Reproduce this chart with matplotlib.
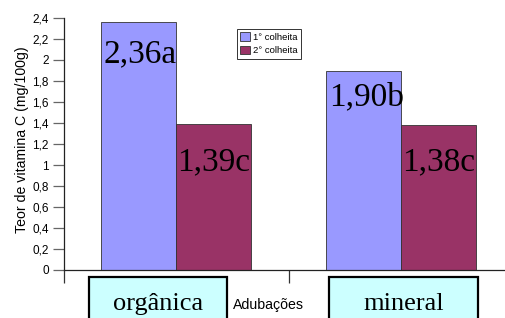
import numpy as np
import matplotlib
matplotlib.use("Agg")
import matplotlib.pyplot as plt
from matplotlib.patches import Rectangle

# ============================================================
# Data
# ============================================================
categories = ["orgânica", "mineral"]
series_names = ["1° colheita", "2° colheita"]
colheita1 = [2.36, 1.90]
colheita2 = [1.39, 1.38]
labels1 = ["2,36a", "1,90b"]
labels2 = ["1,39c", "1,38c"]
yticks = [0, 0.2, 0.4, 0.6, 0.8, 1.0, 1.2, 1.4, 1.6, 1.8, 2.0, 2.2, 2.4]
ytick_labels = ["0", "0,2", "0,4", "0,6", "0,8", "1", "1,2", "1,4", "1,6", "1,8", "2", "2,2", "2,4"]

# where the value labels sit (data units of the baseline)
label_y1 = [1.98, 1.57]
label_y2 = [0.95, 0.95]

# ============================================================
# Style
# ============================================================
W, H = 506, 318
SANS = "Liberation Sans"
SERIF = "Liberation Serif"
c1 = "#9999FF"
c2 = "#993366"
box_fill = "#CCFFFF"


def fx(px):
    return px / W


def fy(py):
    return 1 - py / H


fig = plt.figure(figsize=(W / 100, H / 100), dpi=100)
fig.patch.set_facecolor("white")
ax = fig.add_axes([fx(64), fy(270), 450 / W, 252 / H])

x = np.arange(len(categories)) + 0.5
bw = 1 / 3
ax.bar(x - bw / 2, colheita1, bw, color=c1, edgecolor="#333333", linewidth=0.6,
       label=series_names[0])
ax.bar(x + bw / 2, colheita2, bw, color=c2, edgecolor="#333333", linewidth=0.6,
       label=series_names[1])

for i in range(len(categories)):
    ax.text(x[i] - bw + 0.01, label_y1[i], labels1[i], family=SERIF, fontsize=24,
            ha="left", va="baseline", color="black")
    ax.text(x[i] + 0.005, label_y2[i], labels2[i], family=SERIF, fontsize=24,
            ha="left", va="baseline", color="black")

ax.set_xlim(0, 2)
ax.set_ylim(0, 2.4)
ax.set_yticks(yticks)
ax.set_yticklabels(ytick_labels, family=SANS, fontsize=8.5)
ax.set_xticks([0, 1, 2])
ax.set_xticklabels([])
ax.tick_params(axis="y", direction="out", length=8, width=0.9, color="#666666", pad=3)
ax.tick_params(axis="x", direction="out", length=9, width=0.9, color="#333333")
for s in ["top", "right"]:
    ax.spines[s].set_visible(False)
ax.spines["left"].set_color("#222222")
ax.spines["bottom"].set_color("#222222")
ax.spines["left"].set_linewidth(0.9)
ax.spines["bottom"].set_linewidth(0.9)

ax.set_ylabel("Teor de vitamina C (mg/100g)", family=SANS, fontsize=10.2)
ax.yaxis.set_label_coords(fx(17) - fx(64), 0.5 + 4 / 252)
ax.yaxis.label.set_transform(ax.transAxes)
ax.yaxis.label.set_va("center")

fig.text(fx(268.5), fy(305), "Adubações", family=SANS, fontsize=10.2, ha="center",
         va="center")

# category label boxes
boxes = [(89, 227), (329, 478)]
text_cx = [158.5, 403.5]
for (l, r), cx, name in zip(boxes, text_cx, categories):
    fig.patches.append(Rectangle((fx(l), fy(340)), (r - l) / W, 63 / H,
                                 transform=fig.transFigure, facecolor=box_fill,
                                 edgecolor="black", linewidth=1.6))
    fig.text(fx(cx), fy(310), name, family=SERIF, fontsize=19, ha="center",
             va="baseline")

leg = fig.legend(loc="upper left", bbox_to_anchor=(fx(237), fy(29)),
                 prop={"family": SANS, "size": 6.8}, frameon=True, fancybox=False,
                 edgecolor="black", handlelength=1.0, handleheight=1.0,
                 handletextpad=0.35, borderpad=0.35, labelspacing=0.45,
                 borderaxespad=0)
leg.get_frame().set_linewidth(0.7)

fig.savefig("out.png", dpi=100)
